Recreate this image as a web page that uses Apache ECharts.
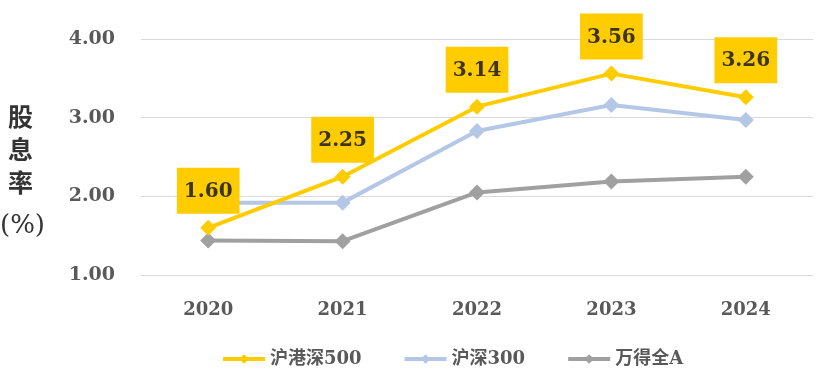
<!DOCTYPE html>
<html><head><meta charset="utf-8">
<script src="https://cdn.jsdelivr.net/npm/echarts@6/dist/echarts.min.js"></script>
<style>html,body{margin:0;padding:0;background:#fff}#c{width:832px;height:384px}</style>
</head><body><div id="c"></div>
<script>
const categories = ['2020', '2021', '2022', '2023', '2024'];
const hgs500 = [1.60, 2.25, 3.14, 3.56, 3.26];
const hs300 = [1.92, 1.92, 2.83, 3.16, 2.97];
const wdqA = [1.44, 1.43, 2.05, 2.19, 2.25];
const seriesNames = ['沪港深500', '沪深300', '万得全A'];
const yTicks = { min: 1, max: 4, interval: 1 };

const FONT = '"DejaVu Serif", "Noto Sans CJK SC", serif';
const chart = echarts.init(document.getElementById('c'), null, { renderer: 'canvas' });
function mk(name, data, color, withLabel) {
  return {
    name, type: 'line', data,
    symbol: 'diamond', symbolSize: 16,
    lineStyle: { color, width: 4 },
    itemStyle: { color },
    z: withLabel ? 5 : 3,
    label: withLabel ? {
      show: true, position: 'top', distance: 6,
      backgroundColor: '#FFCC00', padding: [14, 7, 12, 7],
      color: '#3b3520', fontSize: 20, fontWeight: 'bold', fontFamily: FONT,
      formatter: p => p.value.toFixed(2)
    } : { show: false }
  };
}
chart.setOption({
  animation: false,
  grid: { left: 141, right: 19, top: 39, bottom: 109 },
  xAxis: {
    type: 'category', data: categories, boundaryGap: true,
    axisLine: { show: false }, axisTick: { show: false },
    axisLabel: { color: '#595959', fontSize: 18, fontWeight: 'bold', fontFamily: FONT, margin: 26 }
  },
  yAxis: {
    type: 'value', min: yTicks.min, max: yTicks.max, interval: yTicks.interval,
    axisLine: { show: false }, axisTick: { show: false },
    splitLine: { lineStyle: { color: '#d9d9d9', width: 1 } },
    axisLabel: { color: '#595959', fontSize: 19, fontWeight: 'bold', fontFamily: FONT, margin: 26,
      formatter: v => v.toFixed(2) }
  },
  legend: {
    data: seriesNames, top: 345, left: 216, itemWidth: 42, itemHeight: 12, itemGap: 41,
    lineStyle: { width: 4 },
    textStyle: { color: '#595959', fontSize: 18, fontWeight: 'bold', fontFamily: FONT }
  },
  graphic: [{
    type: 'text', left: 8, top: 100,
    style: { text: '股\n息\n率', font: 'bold 25px "Noto Sans CJK SC"', fill: '#333', lineHeight: 33 }
  }, {
    type: 'text', left: 0, top: 213,
    style: { text: '(%)', font: '26px "DejaVu Serif", "Noto Sans CJK SC"', fill: '#333' }
  }],
  series: [
    mk(seriesNames[0], hgs500, '#FFCC00', true),
    mk(seriesNames[1], hs300, '#B4C7E7', false),
    mk(seriesNames[2], wdqA, '#A0A0A0', false)
  ]
});
</script></body></html>
